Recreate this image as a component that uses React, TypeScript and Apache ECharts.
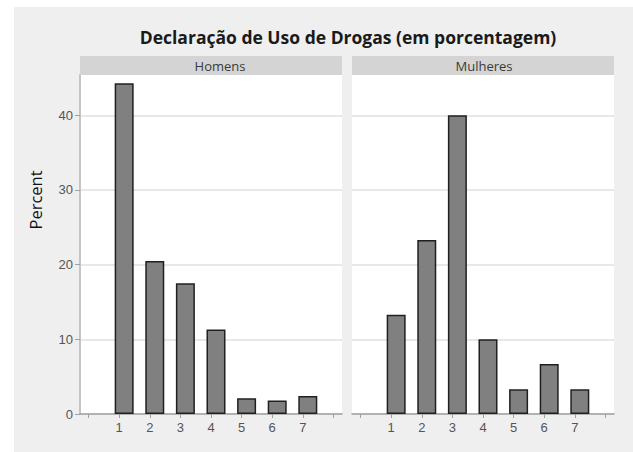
import React, { useEffect, useRef } from "react";
import * as echarts from "echarts";

const categories = [1, 2, 3, 4, 5, 6, 7];
const homens = [44.3, 20.5, 17.5, 11.3, 2.1, 1.8, 2.4];
const mulheres = [13.3, 23.3, 40.0, 10.0, 3.3, 6.7, 3.3];
const yTicks = [0, 10, 20, 30, 40];
const xTicks = [0, 1, 2, 3, 4, 5, 6, 7, 8];
const panelNames = ["Homens", "Mulheres"];
const titleText = "Declaração de Uso de Drogas (em porcentagem)";
const yName = "Percent";

const PANEL_TOP = 75;
const PANEL_H = 339;
const PANEL_W = 262;
const PANEL_LEFTS = [80, 352];
const STRIP_H = 19;

export default function App() {
  const ref = useRef<HTMLDivElement>(null);
  useEffect(() => {
    document.body.style.margin = "0";
    if (!ref.current) return;
    const chart = echarts.init(ref.current, undefined, { renderer: "svg" });

    const grids = PANEL_LEFTS.map((left) => ({
      left,
      top: PANEL_TOP,
      width: PANEL_W,
      height: PANEL_H,
      show: true,
      backgroundColor: "#ffffff",
      borderWidth: 0,
      containLabel: false,
    }));

    const xAxes: any[] = [];
    PANEL_LEFTS.forEach((_, gi) => {
      xAxes.push({
        type: "value",
        gridIndex: gi,
        min: -0.28,
        max: 8.28,
        axisLine: { show: true, onZero: false, lineStyle: { color: "#a0a0a0", width: 1.5 } },
        axisTick: { show: true, customValues: xTicks, length: 4, lineStyle: { color: "#a0a0a0" } },
        axisLabel: {
          customValues: categories,
          color: "#555555",
          fontSize: 13,
          fontFamily: "Liberation Sans",
          margin: 7,
        },
        splitLine: { show: false },
      });
      xAxes.push({
        type: "value",
        gridIndex: gi,
        min: -0.443,
        max: 8.117,
        show: false,
        axisLine: { onZero: false },
        splitLine: { show: false },
      });
    });

    const yAxes: any[] = PANEL_LEFTS.map((_, gi) => ({
      type: "value",
      gridIndex: gi,
      min: 0,
      max: 45.4,
      interval: 10,
      axisLine: { show: gi === 0, onZero: false, lineStyle: { color: "#c4c4c4", width: 2 } },
      axisTick: { show: gi === 0, customValues: yTicks, length: 5, lineStyle: { color: "#a0a0a0" } },
      axisLabel: {
        show: gi === 0,
        customValues: yTicks,
        color: "#555555",
        fontSize: 13,
        fontFamily: "Liberation Sans",
        margin: 7,
      },
      splitLine: { show: true, lineStyle: { color: "#e8e8e8", width: 2 } },
    }));

    const barStyle = { color: "#808080", borderColor: "#202020", borderWidth: 1.5 };
    const stripCenters = [220, 484];

    chart.setOption({
      animation: false,
      backgroundColor: "#ffffff",
      title: {
        text: titleText,
        left: 343,
        top: 23,
        textAlign: "center",
        textStyle: { fontFamily: "Open Sans", fontWeight: "bold", fontSize: 17.5, color: "#1a1a1a" },
      },
      grid: grids,
      xAxis: xAxes,
      yAxis: yAxes,
      series: [
        {
          type: "bar",
          xAxisIndex: 1,
          yAxisIndex: 0,
          barWidth: 19,
          itemStyle: barStyle,
          data: categories.map((c, i) => [c, homens[i]]),
        },
        {
          type: "bar",
          xAxisIndex: 3,
          yAxisIndex: 1,
          barWidth: 19,
          itemStyle: barStyle,
          data: categories.map((c, i) => [c, mulheres[i]]),
        },
      ],
      graphic: [
        {
          type: "rect",
          z: -10,
          silent: true,
          shape: { x: 14, y: 7, width: 619, height: 445 },
          style: { fill: "#efefef" },
        },
        ...PANEL_LEFTS.map((left) => ({
          type: "rect",
          z: 10,
          silent: true,
          shape: { x: left, y: PANEL_TOP - STRIP_H, width: PANEL_W, height: STRIP_H },
          style: { fill: "#d4d4d4" },
        })),
        ...panelNames.map((name, i) => ({
          type: "text",
          z: 11,
          silent: true,
          x: stripCenters[i],
          y: PANEL_TOP - STRIP_H / 2,
          style: {
            text: name,
            textAlign: "center",
            textVerticalAlign: "middle",
            fontFamily: "Open Sans",
            fontSize: 13,
            fill: "#3a3a3a",
          },
        })),
        {
          type: "text",
          z: 11,
          silent: true,
          x: 35,
          y: 200,
          rotation: Math.PI / 2,
          style: {
            text: yName,
            textAlign: "center",
            textVerticalAlign: "middle",
            fontFamily: "Open Sans",
            fontSize: 16.5,
            fill: "#111111",
          },
        },
      ],
    });

    return () => chart.dispose();
  }, []);

  return <div ref={ref} style={{ width: 633, height: 452 }} />;
}
